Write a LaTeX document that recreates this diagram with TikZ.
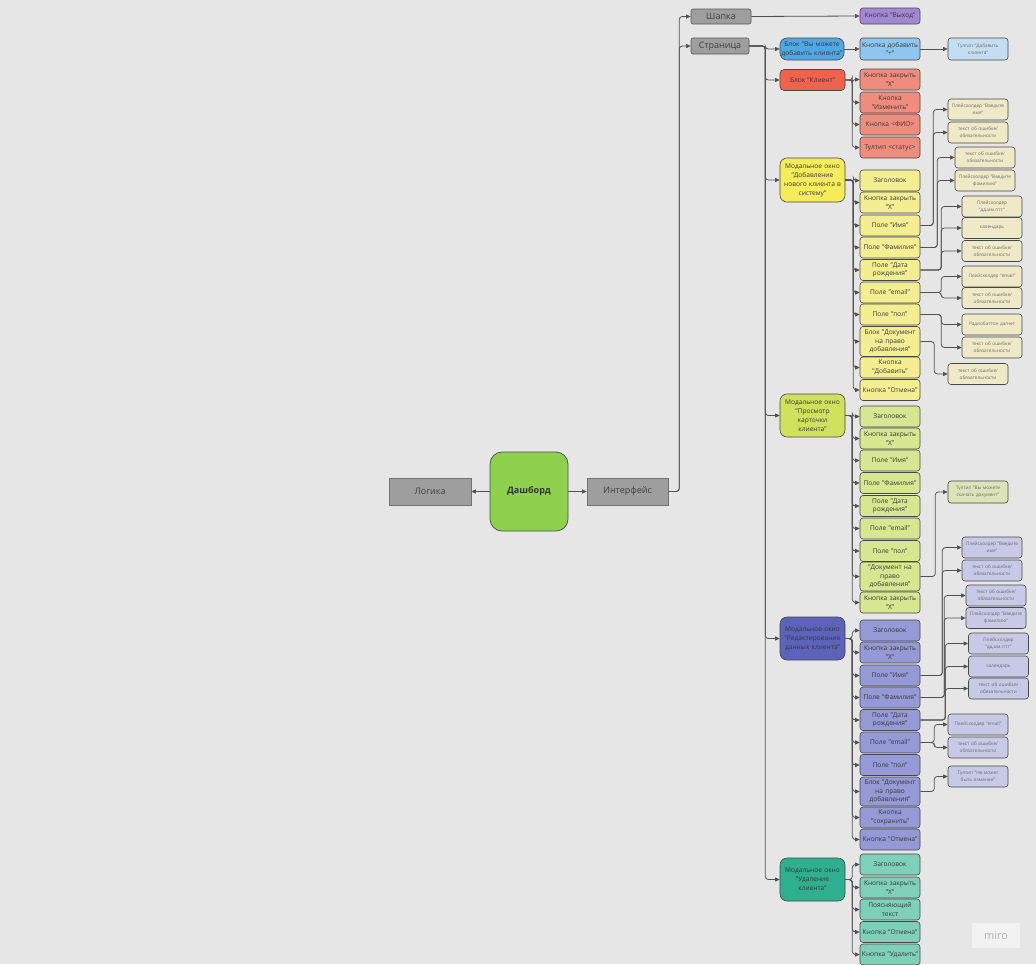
\documentclass[tikz,border=0pt]{standalone}
\usepackage{fontspec}
\setmainfont{Open Sans}
\usetikzlibrary{arrows.meta}
\definecolor{bg}{HTML}{E6E6E6}
\definecolor{cGray}{HTML}{9E9E9E}
\definecolor{cGreen}{HTML}{8FD14F}
\definecolor{cPurple}{HTML}{A088D2}
\definecolor{cBlue}{HTML}{4EA8E6}
\definecolor{cBlueL}{HTML}{8EC6EF}
\definecolor{cBlueXL}{HTML}{C5DDF1}
\definecolor{cRed}{HTML}{F0624B}
\definecolor{cRedL}{HTML}{EE8C7E}
\definecolor{cYel}{HTML}{F5EC5C}
\definecolor{cYelL}{HTML}{F4EE93}
\definecolor{cYelXL}{HTML}{EEEAC8}
\definecolor{cLime}{HTML}{CFE25E}
\definecolor{cLimeL}{HTML}{D7E690}
\definecolor{cLimeXL}{HTML}{DCE3B9}
\definecolor{cInd}{HTML}{5C63B9}
\definecolor{cIndL}{HTML}{9599D5}
\definecolor{cIndXL}{HTML}{C7C9E7}
\definecolor{cTeal}{HTML}{2EB08E}
\definecolor{cTealL}{HTML}{7ED0B8}
\newcommand\linkto[3]{\draw[conn] (#1.east) -- ++(#3,0) |- (#2.west);}
\begin{document}
\begin{tikzpicture}[x=1pt,y=-1pt,
  every node/.style={inner sep=1pt, align=center},
  box/.style={draw=black!72, line width=0.6pt, rounded corners=3pt, text=black!78,
    font=\fontsize{6.6}{8.6}\selectfont, minimum height=21pt, text width=58pt, minimum width=60pt},
  gc/.style={box, font=\fontsize{4.7}{6.8}\selectfont, text=black!58},
  modal/.style={box, rounded corners=7pt, text width=63pt, minimum width=65pt, minimum height=43pt,
    font=\fontsize{6.6}{9}\selectfont},
  topbox/.style={draw=black!65, line width=0.6pt, rounded corners=2pt, fill=cGray, text=black!75,
    font=\fontsize{9}{10}\selectfont, inner sep=0pt},
  sq/.style={draw=black!55, line width=0.6pt, fill=cGray, text=black!75,
    font=\fontsize{9}{10}\selectfont, minimum width=81pt, minimum height=27pt},
  conn/.style={draw=black!68, line width=0.8pt, rounded corners=3pt, -{Triangle[length=4.5pt,width=4pt]}},
]
\useasboundingbox[fill=bg] (0,0) rectangle (1036,964);

% root level
\node[draw=black!70, line width=0.7pt, rounded corners=12pt, fill=cGreen, minimum width=78pt, minimum height=79pt,
  font=\fontsize{9}{10}\selectfont\bfseries, text=black!80] (dash) at (529,491.5) {Дашборд};
\node[sq, minimum width=82pt] (logic) at (430,491.5) {Логика};
\node[sq] (iface) at (627.5,491.5) {Интерфейс};

\node[topbox, minimum width=60pt, minimum height=15pt] (shapka) at (721,16.5) {Шапка};
\node[topbox, minimum width=58pt, minimum height=16pt] (page) at (720,46) {Страница};
\node[box, fill=cPurple, minimum height=16pt] (exit) at (890,16) {Кнопка "Выход"};

% page children
\node[modal, fill=cBlue, minimum height=22pt, text width=62pt, minimum width=64pt] (blockAdd) at (812,49) {Блок "Вы можете\\добавить клиента"};
\node[modal, fill=cRed, minimum height=21pt, rounded corners=4pt] (blockClient) at (812.5,80) {Блок "Клиент"};
\node[modal, fill=cYel, minimum height=44pt] (mAdd) at (812.5,180) {Модальное окно\\"Добавление\\нового клиента в\\систему"};
\node[modal, fill=cLime] (mView) at (812.5,415.5) {Модальное окно\\"Просмотр\\карточки\\клиента"};
\node[modal, fill=cInd] (mEdit) at (812.5,638.5) {Модальное окно\\"Редактирование\\данных клиента"};
\node[modal, fill=cTeal] (mDel) at (812.5,879.5) {Модальное окно\\"Удаление\\клиента"};

% block add
\node[box, fill=cBlueL, minimum height=22pt] (addBtn) at (890,49) {Кнопка добавить\\"+"};
\node[gc, fill=cBlueXL, minimum height=22pt] (addTip) at (978,49) {Тултип "Добавить\\клиента"};

% block client
\node[box, fill=cRedL] (c1) at (890,79.5) {Кнопка закрыть\\"X"};
\node[box, fill=cRedL] (c2) at (890,102.5) {Кнопка\\"Изменить"};
\node[box, fill=cRedL] (c3) at (890,124.5) {Кнопка <ФИО>};
\node[box, fill=cRedL] (c4) at (890,147.5) {Тултип <статус>};

% modal add
\node[box, fill=cYelL] (a1) at (890,180.5) {Заголовок};
\node[box, fill=cYelL] (a2) at (890,202.5) {Кнопка закрыть\\"X"};
\node[box, fill=cYelL] (a3) at (890,225.5) {Поле "Имя"};
\node[box, fill=cYelL] (a4) at (890,247.5) {Поле "Фамилия"};
\node[box, fill=cYelL] (a5) at (890,270) {Поле "Дата\\рождения"};
\node[box, fill=cYelL] (a6) at (890,292.5) {Поле "email"};
\node[box, fill=cYelL] (a7) at (890,314.5) {Поле "пол"};
\node[box, fill=cYelL, minimum height=30pt] (a8) at (890,341.5) {Блок "Документ\\на право\\добавления"};
\node[box, fill=cYelL] (a9) at (890,367.5) {Кнопка\\"Добавить"};
\node[box, fill=cYelL] (a10) at (890,390) {Кнопка "Отмена"};

\node[gc, fill=cYelXL] (g1) at (978,109.5) {Плейсхолдер "Введите\\имя"};
\node[gc, fill=cYelXL] (g2) at (978,132.5) {текст об ошибке/\\обязательности};
\node[gc, fill=cYelXL] (g3) at (985,157.5) {текст об ошибке/\\обязательности};
\node[gc, fill=cYelXL] (g4) at (985,180.5) {Плейсхолдер "Введите\\фамилию"};
\node[gc, fill=cYelXL] (g5) at (992,206.5) {Плейсхолдер\\"дд.мм.гггг"};
\node[gc, fill=cYelXL] (g6) at (992,228) {календарь};
\node[gc, fill=cYelXL] (g7) at (992,251) {текст об ошибке/\\обязательности};
\node[gc, fill=cYelXL] (g8) at (992,276.5) {Плейсхолдер "email"};
\node[gc, fill=cYelXL] (g9) at (992,298) {текст об ошибке/\\обязательности};
\node[gc, fill=cYelXL] (g10) at (992,324.5) {Радиобаттон да/нет};
\node[gc, fill=cYelXL] (g11) at (992,347.5) {текст об ошибке/\\обязательности};
\node[gc, fill=cYelXL] (g12) at (978,374) {текст об ошибке/\\обязательности};

% modal view
\node[box, fill=cLimeL] (v1) at (890,416.5) {Заголовок};
\node[box, fill=cLimeL] (v2) at (890,438.5) {Кнопка закрыть\\"X"};
\node[box, fill=cLimeL] (v3) at (890,460.5) {Поле "Имя"};
\node[box, fill=cLimeL] (v4) at (890,483) {Поле "Фамилия"};
\node[box, fill=cLimeL] (v5) at (890,506) {Поле "Дата\\рождения"};
\node[box, fill=cLimeL] (v6) at (890,528.5) {Поле "email"};
\node[box, fill=cLimeL] (v7) at (890,551) {Поле "пол"};
\node[box, fill=cLimeL, minimum height=29pt] (v8) at (890,576.5) {"Документ на\\право\\добавления"};
\node[box, fill=cLimeL] (v9) at (890,602.5) {Кнопка закрыть\\"X"};
\node[gc, fill=cLimeXL, minimum height=22pt] (vt) at (978,492) {Тултип "Вы можете\\скачать документ"};

% modal edit
\node[box, fill=cIndL] (e1) at (890,630.5) {Заголовок};
\node[box, fill=cIndL] (e2) at (890,652.5) {Кнопка закрыть\\"X"};
\node[box, fill=cIndL] (e3) at (890,675.5) {Поле "Имя"};
\node[box, fill=cIndL] (e4) at (890,697.5) {Поле "Фамилия"};
\node[box, fill=cIndL] (e5) at (890,720) {Поле "Дата\\рождения"};
\node[box, fill=cIndL] (e6) at (890,742.5) {Поле "email"};
\node[box, fill=cIndL] (e7) at (890,765) {Поле "пол"};
\node[box, fill=cIndL, minimum height=29pt] (e8) at (890,791.5) {Блок "Документ\\на право\\добавления"};
\node[box, fill=cIndL] (e9) at (890,817.5) {Кнопка\\"сохранить"};
\node[box, fill=cIndL] (e10) at (890,839.5) {Кнопка "Отмена"};

\node[gc, fill=cIndXL] (eg1) at (992,547.5) {Плейсхолдер "Введите\\имя"};
\node[gc, fill=cIndXL] (eg2) at (992,570.5) {текст об ошибке/\\обязательности};
\node[gc, fill=cIndXL] (eg3) at (996,595.5) {текст об ошибке/\\обязательности};
\node[gc, fill=cIndXL] (eg4) at (996,618) {Плейсхолдер "Введите\\фамилию"};
\node[gc, fill=cIndXL] (eg5) at (998.5,643.5) {Плейсхолдер\\"дд.мм.гггг"};
\node[gc, fill=cIndXL] (eg6) at (998.5,666.5) {календарь};
\node[gc, fill=cIndXL] (eg7) at (998.5,688.5) {текст об ошибке/\\обязательности};
\node[gc, fill=cIndXL] (eg8) at (978,724.5) {Плейсхолдер "email"};
\node[gc, fill=cIndXL] (eg9) at (978,747.5) {текст об ошибке/\\обязательности};
\node[gc, fill=cIndXL] (eg10) at (978,776.5) {Тултип "Не может\\быть изменен"};

% modal delete
\node[box, fill=cTealL] (d1) at (890,864.5) {Заголовок};
\node[box, fill=cTealL] (d2) at (890,887.5) {Кнопка закрыть\\"X"};
\node[box, fill=cTealL] (d3) at (890,909.5) {Поясняющий\\текст};
\node[box, fill=cTealL] (d4) at (890,932) {Кнопка "Отмена"};
\node[box, fill=cTealL] (d5) at (890,954.5) {Кнопка "Удалить"};

% miro mark
\node[fill=white!50!bg, minimum width=48pt, minimum height=25pt, text=black!30,
  font=\fontsize{11}{12}\selectfont] (miro) at (996,935.5) {miro};

% connectors
\draw[conn] (dash.west) -- (logic.east);
\draw[conn] (dash.east) -- (iface.west);
\linkto{iface}{shapka}{11}
\linkto{iface}{page}{11}
\draw[conn] (shapka.east) -- (exit.west);
\foreach \t in {blockAdd,blockClient,mAdd,mView,mEdit,mDel}{\linkto{page}{\t}{16}}
\draw[conn] (blockAdd.east) -- (addBtn.west);
\draw[conn] (addBtn.east) -- (addTip.west);
\foreach \t in {c1,c2,c3,c4}{\linkto{blockClient}{\t}{7}}
\foreach \t in {a1,a2,a3,a4,a5,a6,a7,a8,a9,a10}{\linkto{mAdd}{\t}{8}}
\foreach \t in {v1,v2,v3,v4,v5,v6,v7,v8,v9}{\linkto{mView}{\t}{7}}
\foreach \t in {e1,e2,e3,e4,e5,e6,e7,e8,e9,e10}{\linkto{mEdit}{\t}{7}}
\foreach \t in {d1,d2,d3,d4,d5}{\linkto{mDel}{\t}{7}}

\linkto{a3}{g1}{13}\linkto{a3}{g2}{13}
\linkto{a4}{g3}{17}\linkto{a4}{g4}{17}
\linkto{a5}{g5}{21}\linkto{a5}{g6}{21}\linkto{a5}{g7}{21}
\linkto{a6}{g8}{21}\linkto{a6}{g9}{21}
\linkto{a7}{g10}{21}\linkto{a7}{g11}{21}
\linkto{a8}{g12}{14}
\linkto{v8}{vt}{15}
\linkto{e3}{eg1}{22}\linkto{e3}{eg2}{22}
\linkto{e4}{eg3}{24}\linkto{e4}{eg4}{24}
\linkto{e5}{eg5}{25}\linkto{e5}{eg6}{25}\linkto{e5}{eg7}{25}
\linkto{e6}{eg8}{14}\linkto{e6}{eg9}{14}
\linkto{e8}{eg10}{14}
\end{tikzpicture}
\end{document}
